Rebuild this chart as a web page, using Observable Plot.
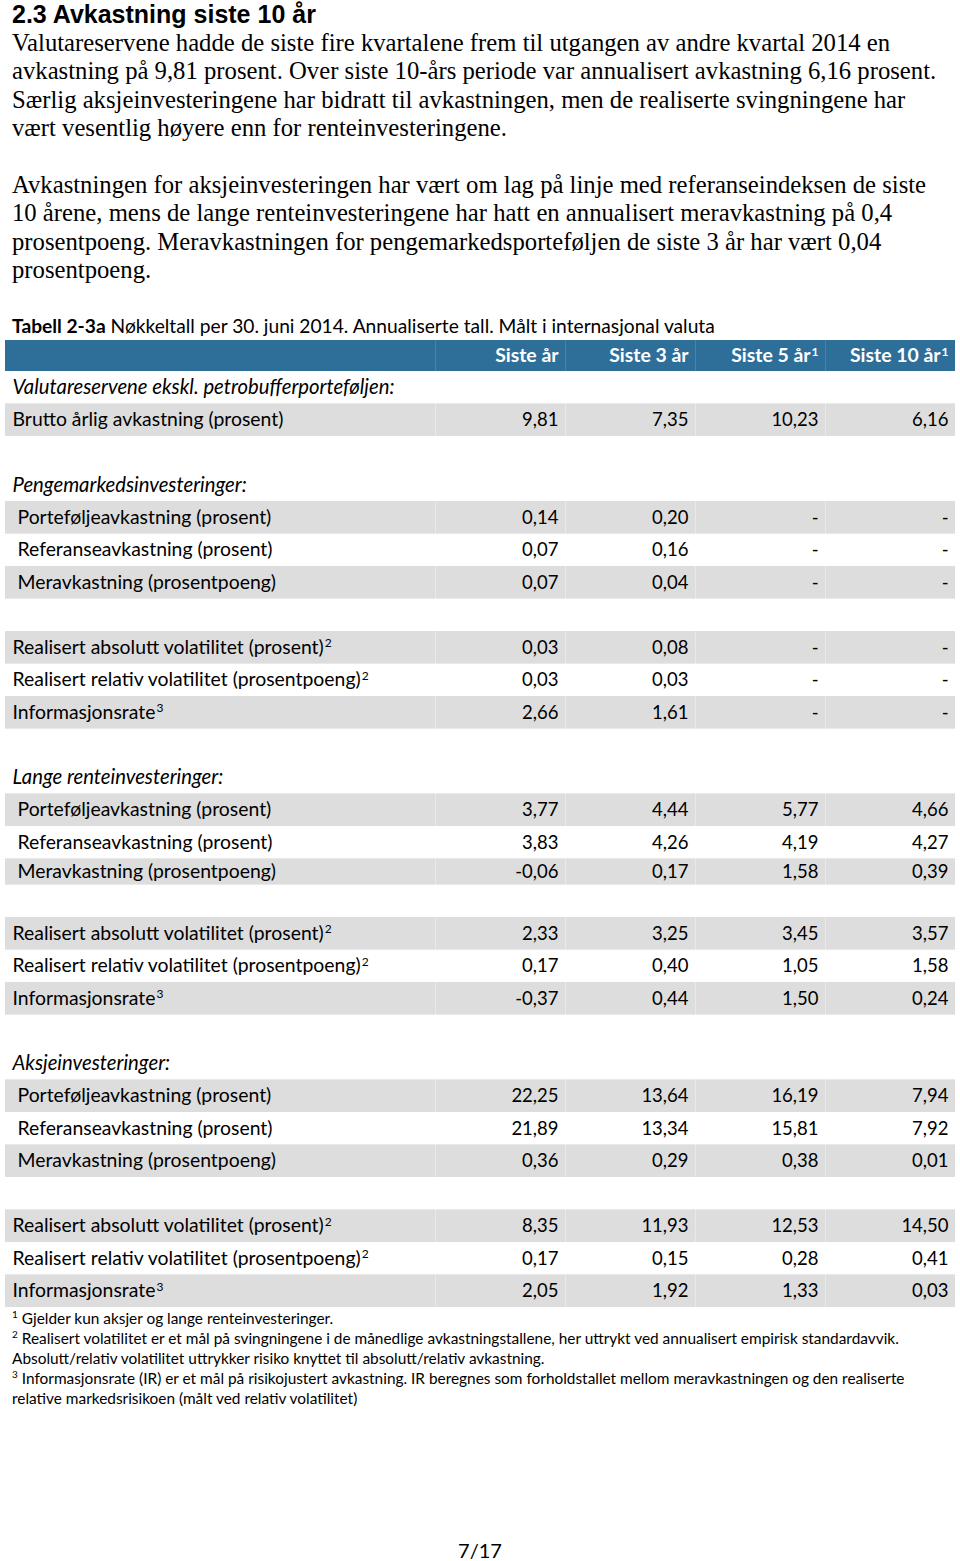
<!DOCTYPE html>
<html>
<head>
<meta charset="utf-8">
<script src="https://cdn.jsdelivr.net/npm/d3@7"></script>
<script src="https://cdn.jsdelivr.net/npm/@observablehq/plot@0.6"></script>
<style>
  html, body { margin: 0; padding: 0; background: #fff; }
  body { width: 960px; height: 1561px; position: relative; overflow: hidden; color: #000; }
  .ln { position: absolute; left: 12px; white-space: nowrap; }
  .title { font-family: "Liberation Sans", Arial, sans-serif; font-weight: bold; font-size: 25px; line-height: 28px; top: 0px; }
  .body { font-family: "Liberation Serif", "Times New Roman", serif; font-size: 24.7px; line-height: 28.6px; }
  .cal { font-family: Lato, sans-serif; }
  .caption { font-size: 19.2px; line-height: 24px; top: 314px; }
  .notes { font-size: 15.4px; line-height: 20px; top: 1308px; }
  .notes sup { font-size: 10px; vertical-align: 6px; line-height: 0; }
  .page { position: absolute; left: 0; width: 960px; text-align: center; top: 1538px; font-size: 20px; line-height: 24px; }
  #chart { position: absolute; left: 0; top: 340px; }
</style>
</head>
<body>
<div class="ln title">2.3 Avkastning siste 10 år</div>
<div class="ln body" style="top:28.7px">
  <div>Valutareservene hadde de siste fire kvartalene frem til utgangen av andre kvartal 2014 en</div>
  <div>avkastning på 9,81 prosent. Over siste 10-års periode var annualisert avkastning 6,16 prosent.</div>
  <div>Særlig aksjeinvesteringene har bidratt til avkastningen, men de realiserte svingningene har</div>
  <div>vært vesentlig høyere enn for renteinvesteringene.</div>
</div>
<div class="ln body" style="top:170.7px">
  <div>Avkastningen for aksjeinvesteringen har vært om lag på linje med referanseindeksen de siste</div>
  <div>10 årene, mens de lange renteinvesteringene har hatt en annualisert meravkastning på 0,4</div>
  <div>prosentpoeng. Meravkastningen for pengemarkedsporteføljen de siste 3 år har vært 0,04</div>
  <div>prosentpoeng.</div>
</div>
<div class="ln cal caption"><b>Tabell 2-3a</b> Nøkkeltall per 30. juni 2014. Annualiserte tall. Målt i internasjonal valuta</div>
<div id="chart"></div>
<div class="ln cal notes">
  <div><sup>1</sup> Gjelder kun aksjer og lange renteinvesteringer.</div>
  <div><sup>2</sup> Realisert volatilitet er et mål på svingningene i de månedlige avkastningstallene, her uttrykt ved annualisert empirisk standardavvik.</div>
  <div>Absolutt/relativ volatilitet uttrykker risiko knyttet til absolutt/relativ avkastning.</div>
  <div><sup>3</sup> Informasjonsrate (IR) er et mål på risikojustert avkastning. IR beregnes som forholdstallet mellom meravkastningen og den realiserte</div>
  <div>relative markedsrisikoen (målt ved relativ volatilitet)</div>
</div>
<div class="page cal">7/17</div>
<script>
// ---- data ----
const columns = ["Siste år", "Siste 3 år", "Siste 5 år", "Siste 10 år"];
const columnNotes = [null, null, 1, 1];
const groupTitles = [
  "Valutareservene ekskl. petrobufferporteføljen:",
  "Pengemarkedsinvesteringer:",
  "Lange renteinvesteringer:",
  "Aksjeinvesteringer:"
];
const bruttoLabel = "Brutto årlig avkastning (prosent)";
const bruttoValues = [9.81, 7.35, 10.23, 6.16];
const returnLabels = ["Porteføljeavkastning (prosent)", "Referanseavkastning (prosent)", "Meravkastning (prosentpoeng)"];
const riskLabels = ["Realisert absolutt volatilitet (prosent)", "Realisert relativ volatilitet (prosentpoeng)", "Informasjonsrate"];
const riskNotes = [2, 2, 3];
const pengeReturns = [[0.14, 0.20, null, null], [0.07, 0.16, null, null], [0.07, 0.04, null, null]];
const pengeRisk = [[0.03, 0.08, null, null], [0.03, 0.03, null, null], [2.66, 1.61, null, null]];
const langeReturns = [[3.77, 4.44, 5.77, 4.66], [3.83, 4.26, 4.19, 4.27], [-0.06, 0.17, 1.58, 0.39]];
const langeRisk = [[2.33, 3.25, 3.45, 3.57], [0.17, 0.40, 1.05, 1.58], [-0.37, 0.44, 1.50, 0.24]];
const aksjeReturns = [[22.25, 13.64, 16.19, 7.94], [21.89, 13.34, 15.81, 7.92], [0.36, 0.29, 0.38, 0.01]];
const aksjeRisk = [[8.35, 11.93, 12.53, 14.50], [0.17, 0.15, 0.28, 0.41], [2.05, 1.92, 1.33, 0.03]];

// ---- build table rows ----
const sup = {1: "\u00b9", 2: "\u00b2", 3: "\u00b3"};
const fmt = v => v == null ? "-" : (v < 0 ? "-" : "") + Math.abs(v).toFixed(2).replace(".", ",");

const rows = [];
const push = r => rows.push(Object.assign({kind: "blank", size: 1, shade: false, indent: false}, r));
push({kind: "header", size: 31 / 32.5});
push({kind: "group", label: groupTitles[0]});
push({kind: "data", label: bruttoLabel, values: bruttoValues, shade: true});
[[pengeReturns, pengeRisk], [langeReturns, langeRisk], [aksjeReturns, aksjeRisk]].forEach(([ret, risk], b) => {
  push({kind: "blank"});
  push({kind: "group", label: groupTitles[b + 1]});
  ret.forEach((vals, i) => push({kind: "data", label: returnLabels[i], values: vals, shade: i !== 1, indent: true, size: (b === 1 && i === 2) ? 0.8 : 1}));
  push({kind: "blank"});
  risk.forEach((vals, i) => push({kind: "data", label: riskLabels[i] + sup[riskNotes[i]], values: vals, shade: i !== 1}));
});
let acc = 0;
rows.forEach(r => { r.y0 = acc; acc += r.size; r.y1 = acc; r.ym = (r.y0 + r.y1) / 2; });
const total = acc;
const H = Math.round(total * 32.5);

const header = rows.filter(r => r.kind === "header");
const groups = rows.filter(r => r.kind === "group");
const dataRows = rows.filter(r => r.kind === "data");
const shaded = rows.filter(r => r.shade);
const headerCells = columns.map((c, j) => ({col: c, text: c + (columnNotes[j] ? sup[columnNotes[j]] : ""), y0: header[0].y0, y1: header[0].y1, ym: header[0].ym}));
const cells = dataRows.flatMap(r => r.values.map((v, j) => ({col: columns[j], text: fmt(v), y0: r.y0, y1: r.y1, ym: r.ym, shade: r.shade})));
const shadedCells = cells.filter(d => d.shade);

const blue = "#2e6f99", blueSep = "#4682ab";
const grey = "#dddddd", greySep = "#e9e9e9";

const chart = Plot.plot({
  width: 960,
  height: H,
  marginLeft: 435, marginRight: 5, marginTop: 0, marginBottom: 0,
  x: {type: "band", domain: columns, paddingInner: 0, paddingOuter: 0, axis: null},
  y: {domain: [0, total], range: [0, H], axis: null},
  style: {fontFamily: "Lato, sans-serif", fontSize: "19px", background: "transparent", color: "#000"},
  marks: [
    // header band
    Plot.rect(header, {y1: "y0", y2: "y1", fill: blueSep, insetLeft: -430}),
    Plot.rect(header, {y1: "y0", y2: "y1", fill: blue, insetLeft: -430, insetRight: 520}),
    Plot.barY(headerCells, {x: "col", y1: "y0", y2: "y1", fill: blue, insetLeft: 1}),
    // shaded rows
    Plot.rect(shaded, {y1: "y0", y2: "y1", fill: greySep, insetLeft: -430}),
    Plot.rect(shaded, {y1: "y0", y2: "y1", fill: grey, insetLeft: -430, insetRight: 520}),
    Plot.barY(shadedCells, {x: "col", y1: "y0", y2: "y1", fill: grey, insetLeft: 1}),
    // header texts
    Plot.text(headerCells, {x: "col", y: "ym", text: "text", textAnchor: "end", dx: 58, fill: "white", fontWeight: "bold", fontSize: 19.4}),
    // group titles
    Plot.text(groups, {y: "ym", text: "label", frameAnchor: "left", dx: -423, fontStyle: "italic", fill: "#000", fontSize: 20.3}),
    // row labels
    Plot.text(dataRows.filter(r => r.indent), {y: "ym", text: "label", frameAnchor: "left", dx: -418, fill: "#000", fontSize: 19.4}),
    Plot.text(dataRows.filter(r => !r.indent), {y: "ym", text: "label", frameAnchor: "left", dx: -423, fill: "#000", fontSize: 19.4}),
    // values
    Plot.text(cells, {x: "col", y: "ym", text: "text", textAnchor: "end", dx: 58, fill: "#000", fontSize: 18.5})
  ]
});
// render trailing note digits as raised superscripts
const supBack = {"\u00b9": "1", "\u00b2": "2", "\u00b3": "3"};
d3.select(chart).selectAll("text").each(function() {
  const t = this.textContent;
  const last = t.slice(-1);
  if (supBack[last]) {
    this.textContent = t.slice(0, -1);
    d3.select(this).append("tspan").attr("font-size", "12px").attr("dx", "1").attr("dy", "-0.55em").text(supBack[last]);
  }
});
document.getElementById("chart").append(chart);
</script>
</body>
</html>
